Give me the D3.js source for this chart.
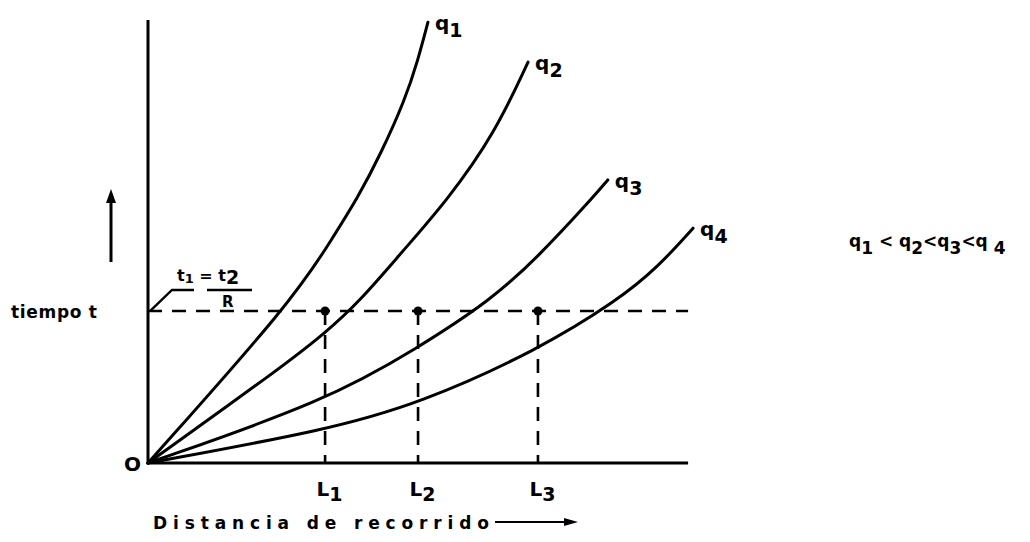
<!DOCTYPE html>
<html>
<head>
<meta charset="utf-8">
<script src="https://cdn.jsdelivr.net/npm/d3@7"></script>
<style>
  body { margin: 0; background: #fff; }
  text { font-family: "DejaVu Sans", sans-serif; font-weight: bold; fill: #000; }
</style>
</head>
<body>
<div id="chart"></div>
<script>
// curves in chart units: distance (x) 0..10, time (y) 0..10
const q1 = [[0,0],[2.64,3.68],[3.33,5.03],[3.82,6.0],[4.24,7.0],[4.67,8.19],[4.91,9.1],[5.09,9.95]];
const q2 = [[0,0],[2.36,2.10],[3.22,2.93],[3.87,3.68],[4.60,4.74],[5.45,5.94],[6.31,7.45],[6.91,9.05]];
const q3 = [[0,0],[3.24,1.40],[4.91,2.60],[6.24,3.68],[7.09,4.65],[8.05,5.94],[8.36,6.39]];
const q4 = [[0,0],[3.24,0.74],[4.95,1.35],[7.09,2.55],[8.55,3.68],[9.27,4.42],[9.91,5.30]];
const curveNames = ["1", "2", "3", "4"];

// time level t1 = t2/R and the distances where it is reached
const tLevel = 3.43;
const lNames = ["1", "2", "3"];
const lValues = [3.22, 4.91, 7.09];

const xMax = 9.82, yMax = 10;

var width = 1030, height = 542;

var svg = d3.select("#chart").append("svg")
    .attr("width", width)
    .attr("height", height);

var x = d3.scaleLinear().domain([0, 10]).range([148, 698]);
var y = d3.scaleLinear().domain([0, 10]).range([463, 20]);

var line = d3.line()
    .x(d => x(d[0]))
    .y(d => y(d[1]))
    .curve(d3.curveBasis);

var straight = d3.line()
    .x(d => x(d[0]))
    .y(d => y(d[1]));

// axes (plain lines, no ticks)
svg.append("path")
    .attr("d", straight([[0, yMax], [0, 0], [xMax, 0]]))
    .attr("fill", "none")
    .attr("stroke", "#000")
    .attr("stroke-width", 3);

// dashed level line and drop lines
var dash = svg.append("g")
    .attr("fill", "none")
    .attr("stroke", "#000")
    .attr("stroke-width", 2.6)
    .attr("stroke-dasharray", "14,10");

dash.append("path")
    .attr("d", straight([[0, tLevel], [xMax, tLevel]]));

dash.selectAll(".drop")
  .data(lValues)
  .enter().append("path")
    .attr("class", "drop")
    .attr("d", d => straight([[d, tLevel], [d, 0]]));

svg.selectAll(".dot")
  .data(lValues)
  .enter().append("circle")
    .attr("class", "dot")
    .attr("cx", d => x(d))
    .attr("cy", y(tLevel))
    .attr("r", 4.5)
    .attr("fill", "#000");

// curves
var curves = [q1, q2, q3, q4];
svg.selectAll(".curve")
  .data(curves)
  .enter().append("path")
    .attr("class", "curve")
    .attr("d", line)
    .attr("fill", "none")
    .attr("stroke", "#000")
    .attr("stroke-width", 3)
    .attr("stroke-linecap", "round");

// curve labels q1..q4 at the curve ends
var lab = svg.selectAll(".qlab")
  .data(curves)
  .enter().append("text")
    .attr("class", "qlab")
    .attr("x", d => x(d[d.length - 1][0]) + 7)
    .attr("y", d => y(d[d.length - 1][1]) + 8)
    .style("font-size", "20px");
lab.append("tspan").text("q");
lab.append("tspan")
    .attr("dy", 7)
    .style("font-size", "19px")
    .text((d, i) => curveNames[i]);

// L ticks on the distance axis
var xAxis = svg.append("g")
    .attr("transform", "translate(0," + y(0) + ")")
    .call(d3.axisBottom(x).tickValues(lValues).tickSize(0).tickPadding(19).tickFormat(""));
xAxis.select(".domain").remove();
xAxis.selectAll(".tick text").each(function(d, i) {
  var t = d3.select(this)
      .attr("fill", "#000")
      .attr("font-family", null)
      .attr("font-size", null)
      .style("font-size", "20px")
      .attr("text-anchor", "start")
      .attr("x", -9);
  t.append("tspan").text("L");
  t.append("tspan").attr("dy", 5).style("font-size", "19px").text(lNames[i]);
});

// origin
svg.append("text")
    .attr("x", x(0) - 24)
    .attr("y", y(0) + 8)
    .style("font-size", "20px")
    .text("O");

// y label and arrow
svg.append("text")
    .attr("x", 11)
    .attr("y", 318)
    .attr("textLength", 86)
    .attr("lengthAdjust", "spacing")
    .style("font-size", "17px")
    .text("tiempo t");

svg.append("line")
    .attr("x1", 111).attr("y1", 262)
    .attr("x2", 111).attr("y2", 200)
    .attr("stroke", "#000").attr("stroke-width", 3);
svg.append("path")
    .attr("d", "M111,189L106,203L116,203Z")
    .attr("fill", "#000");

// x label and arrow
svg.append("text")
    .attr("x", 153)
    .attr("y", 529)
    .attr("textLength", 336)
    .attr("lengthAdjust", "spacing")
    .style("font-size", "17px")
    .text("Distancia de recorrido");

svg.append("line")
    .attr("x1", 495).attr("y1", 522)
    .attr("x2", 568).attr("y2", 522)
    .attr("stroke", "#000").attr("stroke-width", 2);
svg.append("path")
    .attr("d", "M578,522L564,518L564,526Z")
    .attr("fill", "#000");

// t1 = t2 / R annotation
svg.append("path")
    .attr("d", d3.line()([[x(0) + 2, y(tLevel)], [172, 290], [194, 290]]))
    .attr("fill", "none")
    .attr("stroke", "#000")
    .attr("stroke-width", 2.4);
svg.append("line")
    .attr("x1", 207).attr("y1", 290)
    .attr("x2", 252).attr("y2", 290)
    .attr("stroke", "#000").attr("stroke-width", 2.4);

var ann = svg.append("text")
    .attr("x", 177)
    .attr("y", 281)
    .style("font-size", "16px");
ann.append("tspan").text("t");
ann.append("tspan").attr("dy", 2).style("font-size", "13px").text("1");
ann.append("tspan").attr("dy", -2).text(" = t");
ann.append("tspan").attr("dy", 3).style("font-size", "19px").text("2");

svg.append("text")
    .attr("x", 222)
    .attr("y", 307)
    .style("font-size", "15px")
    .text("R");

// relation q1 < q2 < q3 < q4
var rel = svg.append("text")
    .attr("x", 849)
    .attr("y", 247)
    .style("font-size", "17px");
curveNames.forEach(function(n, i) {
  rel.append("tspan").attr("dy", i === 0 ? 0 : -7).text(i === 0 ? "q" : (i === 1 ? " < q" : "<q"));
  rel.append("tspan").attr("dy", 7).text(i === 3 ? " " + n : n);
});
</script>
</body>
</html>
